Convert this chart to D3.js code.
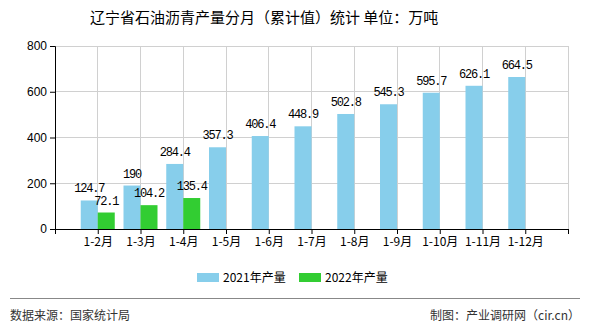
<!DOCTYPE html>
<html><head><meta charset="utf-8">
<script src="https://cdn.jsdelivr.net/npm/d3@7"></script>
<style>
body{margin:0;background:#fff;}
svg{display:block;}
</style></head>
<body>
<svg id="c" width="590" height="330"></svg>
<script>
const categories = ["1-2月","1-3月","1-4月","1-5月","1-6月","1-7月","1-8月","1-9月","1-10月","1-11月","1-12月"];
const values2021 = [124.7,190,284.4,357.3,406.4,448.9,502.8,545.3,595.7,626.1,664.5];
const values2022 = [72.1,104.2,135.4];
const seriesNames = ["2021年产量","2022年产量"];
const yTicks = [0,200,400,600,800];
const titleText = "辽宁省石油沥青产量分月（累计值）统计 单位：万吨";
const sourceText = "数据来源：国家统计局";
const creditText = "制图：产业调研网（cir.cn）";

const colors = ["#87CEEB","#32CD32"];
const svg = d3.select("#c");
const L=55,R=568,T=46,B=229;
const domain = ["_s"].concat(categories,["_e"]);
const x = d3.scalePoint().domain(domain).range([L,R]);
const y = d3.scaleLinear().domain([0,800]).range([B,T]);
const bw = 17;
const cjk = "'Noto Sans CJK SC','Noto Sans',sans-serif";

// title
svg.append("text").attr("x",90).attr("y",23).attr("font-family",cjk)
  .attr("font-size",15).attr("fill","#000").text(titleText);

// grid
const g = svg.append("g");
g.selectAll(".hg").data(yTicks.filter(d=>d>0)).join("line")
  .attr("x1",L).attr("x2",R).attr("y1",d=>y(d)).attr("y2",d=>y(d))
  .attr("stroke","#d0d0d0").attr("stroke-width",1).attr("shape-rendering","crispEdges");
g.selectAll(".vg").data(domain.slice(1)).join("line")
  .attr("x1",d=>x(d)).attr("x2",d=>x(d)).attr("y1",T).attr("y2",B)
  .attr("stroke","#d0d0d0").attr("stroke-width",1).attr("shape-rendering","crispEdges");

// bars
svg.append("g").selectAll("rect").data(values2021).join("rect")
  .attr("x",(d,i)=>x(categories[i])-bw).attr("width",bw)
  .attr("y",d=>y(d)).attr("height",d=>B-y(d)).attr("fill",colors[0]);
svg.append("g").selectAll("rect").data(values2022).join("rect")
  .attr("x",(d,i)=>x(categories[i])).attr("width",bw)
  .attr("y",d=>y(d)).attr("height",d=>B-y(d)).attr("fill",colors[1]);

// axes
const ya = svg.append("g").attr("transform",`translate(${L},0)`)
  .call(d3.axisLeft(y).tickValues(yTicks).tickSize(5).tickPadding(3).tickFormat(d3.format("d")));
ya.select(".domain").attr("stroke","#000");
ya.selectAll("text").attr("font-family","'Liberation Sans',Arial,sans-serif").attr("font-size",12).attr("fill","#000");
const xa = svg.append("g").attr("transform",`translate(0,${B})`)
  .call(d3.axisBottom(x).tickSize(5).tickPadding(3).tickFormat(d=>d.startsWith("_")?"":d));
xa.select(".domain").attr("stroke","#000");
xa.selectAll("text").attr("font-family",cjk).attr("font-size",12).attr("fill","#000");

// value labels
const lab = svg.append("g").attr("font-family","'Liberation Mono',monospace").attr("font-size",12)
  .attr("letter-spacing","-1.2px").attr("text-anchor","middle").attr("fill","#000");
lab.selectAll(".a").data(values2021).join("text")
  .attr("x",(d,i)=>x(categories[i])-bw/2).attr("y",d=>y(d)-8).text(d=>d);
lab.selectAll(".b").data(values2022).join("text")
  .attr("x",(d,i)=>x(categories[i])+bw/2).attr("y",d=>y(d)-8).text(d=>d);

// legend
const lg = svg.append("g");
const lx = [197,299];
seriesNames.forEach((n,i)=>{
  lg.append("rect").attr("x",lx[i]).attr("y",273).attr("width",22).attr("height",9).attr("fill",colors[i]);
  lg.append("text").attr("x",lx[i]+26).attr("y",282).attr("font-family",cjk).attr("font-size",12).attr("fill","#000").text(n);
});

// footer
svg.append("line").attr("x1",10).attr("x2",580).attr("y1",298.5).attr("y2",298.5).attr("stroke","#888");
svg.append("text").attr("x",10).attr("y",320).attr("font-family",cjk).attr("font-size",12).attr("fill","#333").text(sourceText);
svg.append("text").attr("x",580).attr("y",320).attr("text-anchor","end").attr("font-family",cjk).attr("font-size",12).attr("fill","#333").text(creditText);
</script>
</body></html>
